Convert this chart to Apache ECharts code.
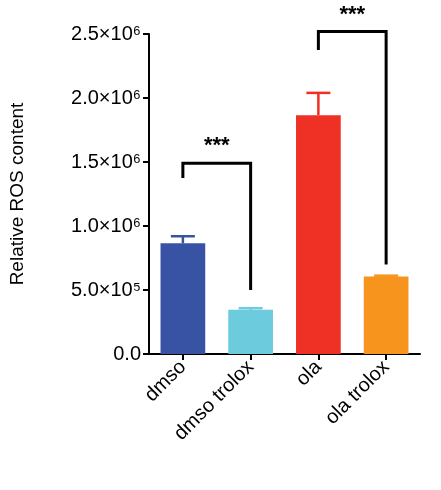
<!DOCTYPE html><html><head><meta charset="utf-8"><script src="https://cdn.jsdelivr.net/npm/echarts@6/dist/echarts.min.js"></script></head><body style="margin:0"><div id="c" style="width:441px;height:490px"></div><script>
const categories=['dmso','dmso trolox','ola','ola trolox'];
const means=[865000,345000,1865000,605000];
const errTop=[920000,358000,2040000,612000];
const colors=['#3953a4','#6ccbdc','#ee3124','#f7941d'];
const yTicks=['0.0','5.0×10⁵','1.0×10⁶','1.5×10⁶','2.0×10⁶','2.5×10⁶'];
// brackets: [leftCat,rightCat,top,leftEnd,rightEnd]
const brackets=[[0,1,1490000,1375000,500000],[2,3,2520000,2375000,700000]];
const ch=echarts.init(document.getElementById('c'));
const F='Liberation Sans, Arial';
ch.setOption({
grid:{left:148,right:21,top:34,bottom:136},
xAxis:{type:'category',data:categories,axisTick:{show:true,length:6,lineStyle:{color:'#000',width:2},alignWithLabel:true},axisLine:{lineStyle:{color:'#000',width:2}},
axisLabel:{rotate:45,color:'#000',fontSize:20,fontFamily:F,interval:0,margin:10}},
yAxis:{type:'value',min:0,max:2500000,interval:500000,splitLine:{show:false},
axisLine:{show:true,lineStyle:{color:'#000',width:2}},axisTick:{show:true,length:6,lineStyle:{color:'#000',width:2}},
axisLabel:{color:'#000',fontSize:20,fontFamily:F,margin:8,formatter:(v,i)=>yTicks[i]},
name:'Relative ROS content',nameLocation:'middle',nameGap:122,nameTextStyle:{color:'#000',fontSize:19,fontFamily:F}},
series:[
{type:'bar',data:means.map((v,i)=>({value:v,itemStyle:{color:colors[i]}})),barWidth:'66%'},
{type:'custom',data:errTop.map((v,i)=>[i,means[i],v]),renderItem:(p,api)=>{
 const i=api.value(0),a=api.coord([i,api.value(1)]),b=api.coord([i,api.value(2)]);
 const c=colors[i];
 return {type:'group',children:[
 {type:'line',shape:{x1:a[0],y1:a[1],x2:b[0],y2:b[1]},style:{stroke:c,lineWidth:2.5}},
 {type:'line',shape:{x1:b[0]-12,y1:b[1],x2:b[0]+12,y2:b[1]},style:{stroke:c,lineWidth:2.5}}]};},z:1},
{type:'custom',clip:false,data:brackets,renderItem:(p,api)=>{
 const l=api.value(0),r=api.value(1),t=api.value(2),le=api.value(3),re=api.value(4);
 const p1=api.coord([l,le]),p2=api.coord([l,t]),p3=api.coord([r,t]),p4=api.coord([r,re]);
 return {type:'group',children:[
 {type:'polyline',shape:{points:[p1,p2,p3,p4]},style:{stroke:'#000',lineWidth:3,fill:null}},
 {type:'text',style:{x:(p2[0]+p3[0])/2,y:p2[1]-6,text:'***',fill:'#000',font:'bold 22px '+F,align:'center',verticalAlign:'bottom'}}]};},z:3}
]});
</script></body></html>
